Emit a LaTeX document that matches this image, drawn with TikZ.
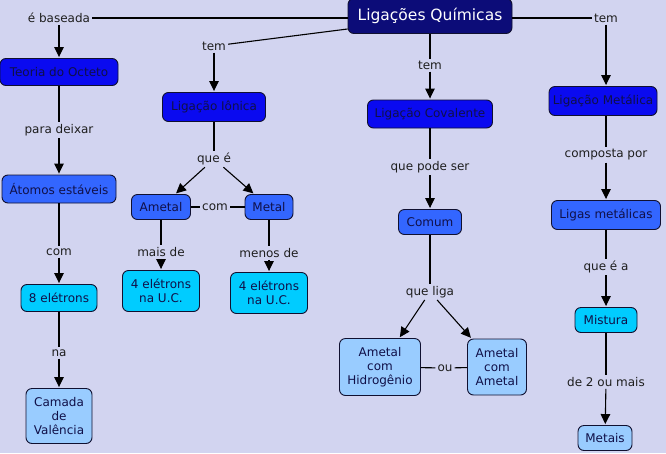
\documentclass[tikz,border=0pt]{standalone}
\usepackage{fontspec}
\setmainfont{DejaVu Sans}
\usetikzlibrary{arrows.meta,calc}
\definecolor{bg}{RGB}{210,212,240}
\definecolor{cRoot}{RGB}{12,12,120}
\definecolor{cL1}{RGB}{10,10,240}
\definecolor{cL2}{RGB}{51,102,255}
\definecolor{cL3}{RGB}{0,204,255}
\definecolor{cL4}{RGB}{153,204,255}
\definecolor{cBorder}{RGB}{16,16,48}
\definecolor{cText}{RGB}{16,16,72}
\definecolor{cLab}{RGB}{30,30,30}
\tikzset{
  box/.style={draw=cBorder, line width=0.9pt, rounded corners=6pt, align=center,
    inner sep=0pt, text=cText, font=\fontsize{12}{14}\selectfont},
  rootbox/.style={box, fill=cRoot, text=white, font=\fontsize{15.5}{18}\selectfont},
  lone/.style={box, fill=cL1},
  ltwo/.style={box, fill=cL2},
  lthree/.style={box, fill=cL3},
  lfour/.style={box, fill=cL4},
  lab/.style={inner sep=2pt, text=cLab, font=\fontsize{12}{14}\selectfont},
  conn/.style={draw=black, line width=1.1pt},
  arr/.style={conn, -{Triangle[length=10pt,width=9.5pt]}, shorten >=1pt},
}
\begin{document}
\begin{tikzpicture}[x=1pt,y=-1pt]
\fill[bg] (0,0) rectangle (666,453);
\useasboundingbox (0,0) rectangle (666,453);
% nodes
\node[rootbox, minimum width=164, minimum height=35] (root) at (430,16) {Ligações Químicas};
\node[lone, minimum width=118, minimum height=27] (teoria) at (59,72) {Teoria do Octeto};
\node[lone, minimum width=103, minimum height=29] (ionica) at (214,107) {Ligação Iônica};
\node[lone, minimum width=125, minimum height=28] (covalente) at (430,114) {Ligação Covalente};
\node[lone, minimum width=108, minimum height=29] (metalica) at (603,101) {Ligação Metálica};
\node[ltwo, minimum width=114, minimum height=28] (atomos) at (59,189) {Átomos estáveis};
\node[ltwo, minimum width=59, minimum height=25] (ametal) at (161,207) {Ametal};
\node[ltwo, minimum width=48, minimum height=25] (metal) at (269,207) {Metal};
\node[ltwo, minimum width=63, minimum height=25] (comum) at (430,222) {Comum};
\node[ltwo, minimum width=109, minimum height=29] (ligas) at (606,215) {Ligas metálicas};
\node[lthree, minimum width=76, minimum height=27] (oito) at (59,298) {8 elétrons};
\node[lthree, minimum width=77, minimum height=41] (quatroA) at (161,291) {4 elétrons\\na U.C.};
\node[lthree, minimum width=77, minimum height=41] (quatroB) at (269,293) {4 elétrons\\na U.C.};
\node[lthree, minimum width=62, minimum height=25] (mistura) at (606,320) {Mistura};
\node[lfour, minimum width=66, minimum height=55] (camada) at (59,416) {Camada\\de\\Valência};
\node[lfour, minimum width=81, minimum height=57] (hidro) at (380,367) {Ametal\\com\\Hidrogênio};
\node[lfour, minimum width=59, minimum height=56] (ametalB) at (497,367) {Ametal\\com\\Ametal};
\node[lfour, minimum width=54, minimum height=25] (metais) at (605,438) {Metais};
% labels
\node[lab] (baseada) at (59,18) {é baseada};
\node[lab] (temA) at (214,46) {tem};
\node[lab] (temB) at (430,65) {tem};
\node[lab] (temC) at (606,18) {tem};
\node[lab] (paradeixar) at (59,130) {para deixar};
\node[lab] (comA) at (59,252) {com};
\node[lab] (na) at (59,353) {na};
\node[lab] (quee) at (214,159) {que é};
\node[lab] (comB) at (215,207) {com};
\node[lab] (maisde) at (161,252) {mais de};
\node[lab] (menosde) at (269,253) {menos de};
\node[lab] (quepode) at (430,167) {que pode ser};
\node[lab] (queliga) at (430,292) {que liga};
\node[lab] (ou) at (445,368) {ou};
\node[lab] (composta) at (606,155) {composta por};
\node[lab] (queea) at (606,267) {que é a};
\node[lab] (de2) at (606,382) {de 2 ou mais};
% connectors
\coordinate (rootlow) at ($(root.west)+(0,13)$);
\draw[conn] (baseada -| root.west) -- (baseada);
\draw[arr] (baseada) -- (teoria);
\draw[conn] (rootlow) -- (temA);
\draw[arr] (temA) -- (ionica);
\draw[conn] (root) -- (temB);
\draw[arr] (temB) -- (covalente);
\draw[conn] (temC -| root.east) -- (temC);
\draw[arr] (temC) -- (temC |- metalica.north);
\draw[conn] (teoria) -- (paradeixar);
\draw[arr] (paradeixar) -- (atomos);
\draw[conn] (atomos) -- (comA);
\draw[arr] (comA) -- (oito);
\draw[conn] (oito) -- (na);
\draw[arr] (na) -- (camada);
\draw[conn] (ionica) -- (quee);
\draw[arr] (quee) -- (ametal);
\draw[arr] (quee) -- (metal);
\draw[conn] (ametal) -- (comB);
\draw[conn] (comB) -- (metal);
\draw[conn] (ametal) -- (maisde);
\draw[arr] (maisde) -- (quatroA);
\draw[conn] (metal) -- (menosde);
\draw[arr] (menosde) -- (quatroB);
\draw[conn] (covalente) -- (quepode);
\draw[arr] (quepode) -- (comum);
\draw[conn] (comum) -- (queliga);
\draw[arr] (queliga) -- (hidro);
\draw[arr] (queliga) -- (ametalB);
\draw[conn] (hidro) -- (ou);
\draw[conn] (ou) -- (ametalB);
\draw[conn] (composta |- metalica.south) -- (composta);
\draw[arr] (composta) -- (ligas);
\draw[conn] (ligas) -- (queea);
\draw[arr] (queea) -- (mistura);
\draw[conn] (mistura) -- (de2);
\draw[arr] (de2) -- (metais);
\end{tikzpicture}
\end{document}
